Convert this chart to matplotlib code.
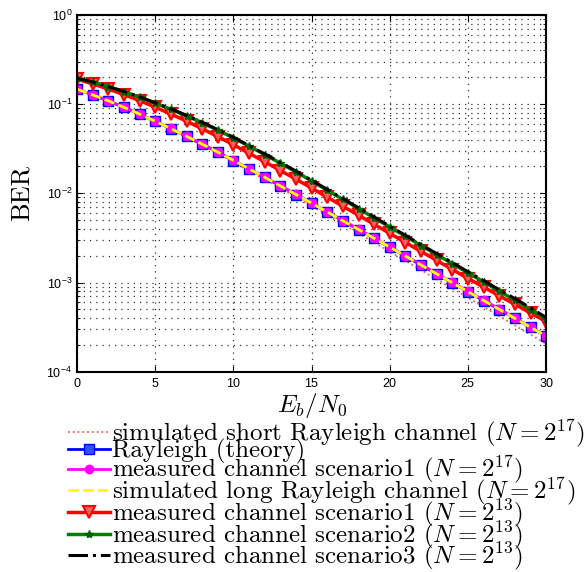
import matplotlib
matplotlib.use('Agg')
import matplotlib.pyplot as plt
from matplotlib.ticker import LogLocator, NullFormatter

plt.rcParams['font.family'] = ['cmr10', 'DejaVu Serif']
plt.rcParams['mathtext.fontset'] = 'cm'
plt.rcParams['axes.formatter.use_mathtext'] = True

snr = list(range(0, 31))

# Rayleigh (theory)
ber_theory = [0.1464, 0.1267, 0.1085, 0.0919, 0.0771, 0.0642, 0.0530, 0.0435, 0.0355, 0.0288,
              0.0233, 0.0187, 0.0151, 0.0121, 0.00967, 0.00773, 0.00616, 0.00491, 0.00392, 0.00312,
              0.00248, 0.00197, 0.001568, 0.001247, 0.000991, 0.000788, 0.000627, 0.000498, 0.000396,
              0.000314, 0.000250]
# simulated short Rayleigh channel (N=2^17)
ber_short = [0.1462, 0.1264, 0.1080, 0.0913, 0.0764, 0.0634, 0.0521, 0.0426, 0.0346, 0.0279,
             0.0224, 0.0178, 0.0143, 0.0114, 0.00905, 0.00718, 0.00568, 0.00450, 0.00356, 0.00281,
             0.00222, 0.00175, 0.001380, 0.001088, 0.000858, 0.000676, 0.000533, 0.000420, 0.000331,
             0.000261, 0.000205]
# measured channel scenario1 (N=2^17)
ber_meas1_17 = [0.1470, 0.1272, 0.1090, 0.0921, 0.0776, 0.0645, 0.0534, 0.0436, 0.0358, 0.0290,
                0.0235, 0.0189, 0.0152, 0.0122, 0.00975, 0.00780, 0.00622, 0.00496, 0.00396, 0.00315,
                0.00250, 0.00200, 0.001590, 0.001262, 0.001003, 0.000798, 0.000636, 0.000505, 0.000402,
                0.000318, 0.000253]
# simulated long Rayleigh channel (N=2^17)
ber_long = [0.1466, 0.1269, 0.1087, 0.0920, 0.0772, 0.0643, 0.0531, 0.0436, 0.0356, 0.0289,
            0.0234, 0.0188, 0.0151, 0.0121, 0.00969, 0.00775, 0.00618, 0.00492, 0.00393, 0.00313,
            0.00249, 0.00198, 0.001572, 0.001250, 0.000994, 0.000790, 0.000629, 0.000500, 0.000397,
            0.000315, 0.000251]
# measured channel scenario1 (N=2^13)
ber_meas1_13 = [0.190, 0.1685, 0.1476, 0.1277, 0.1095, 0.0924, 0.0774, 0.0644, 0.0529, 0.0432,
                0.0350, 0.0281, 0.0226, 0.0180, 0.0144, 0.01144, 0.00905, 0.00716, 0.00568, 0.00449,
                0.00355, 0.00281, 0.00223, 0.00177, 0.00140, 0.00111, 0.000890, 0.000710, 0.000570,
                0.000455, 0.000365]
# measured channel scenario2 (N=2^13)
ber_meas2_13 = [0.196, 0.1774, 0.1573, 0.1379, 0.1195, 0.1027, 0.0875, 0.0740, 0.0618, 0.0510,
                0.0419, 0.0337, 0.0272, 0.0218, 0.0174, 0.01376, 0.01084, 0.00854, 0.00674, 0.00530,
                0.00419, 0.00331, 0.00260, 0.00206, 0.00163, 0.00128, 0.00102, 0.000802, 0.000634,
                0.000499, 0.000395]
# measured channel scenario3 (N=2^13)
ber_meas3_13 = [0.195, 0.1770, 0.1570, 0.1385, 0.1205, 0.1035, 0.0885, 0.0748, 0.0625, 0.0518,
                0.0425, 0.0342, 0.0276, 0.0222, 0.0177, 0.01400, 0.01105, 0.00872, 0.00688, 0.00542,
                0.00428, 0.00338, 0.00266, 0.00211, 0.00167, 0.00132, 0.00105, 0.000830, 0.000660,
                0.000520, 0.000405]

fig = plt.figure(figsize=(5.88, 5.72), dpi=100)
ax = fig.add_axes([0.131, 0.350, 0.798, 0.624])

ax.semilogy(snr, ber_short, ':', color='#ff5a4a', lw=1.3,
            label=r'simulated short Rayleigh channel ($N=2^{17}$)')
ax.semilogy(snr, ber_theory, '-', color='#0000ff', lw=2, marker='s', ms=6.5,
            mfc='#3050ff', mec='#0000ff', label='Rayleigh (theory)')
ax.semilogy(snr, ber_meas1_17, '-', color='#ff00ff', lw=2, marker='o', ms=6,
            mfc='#ff00ff', mec='#ff00ff', label=r'measured channel scenario1 ($N=2^{17}$)')
ax.semilogy(snr, ber_long, '--', color='#ffff00', lw=2,
            label=r'simulated long Rayleigh channel ($N=2^{17}$)')
ax.semilogy(snr, ber_meas1_13, '-', color='#ff0000', lw=2.5, marker='v', ms=8,
            mfc='#ff6060', mec='#ff0000', mew=1.5, label=r'measured channel scenario1 ($N=2^{13}$)')
ax.semilogy(snr, ber_meas2_13, '-', color='#008000', lw=2.5, marker='*', ms=6,
            mfc='#006000', mec='#006000', label=r'measured channel scenario2 ($N=2^{13}$)')
ax.semilogy(snr, ber_meas3_13, '-.', color='black', lw=2.2,
            label=r'measured channel scenario3 ($N=2^{13}$)')

ax.set_xlim(0, 30)
ax.set_ylim(1e-4, 1)
ax.set_xticks([0, 5, 10, 15, 20, 25, 30])
ax.yaxis.set_major_locator(LogLocator(base=10, numticks=10))
ax.yaxis.set_minor_locator(LogLocator(base=10, subs=range(2, 10), numticks=20))
ax.yaxis.set_minor_formatter(NullFormatter())
ax.grid(True, which='major', axis='x', ls=(0, (1, 4)), color='#333333', lw=0.9)
ax.grid(True, which='both', axis='y', ls=(0, (1, 4)), color='#333333', lw=0.9)
ax.tick_params(which='both', direction='in', top=True, right=True)
ax.tick_params(which='major', length=4, labelsize=9)
ax.tick_params(which='minor', length=2)
for lab in ax.get_xticklabels() + ax.get_yticklabels():
    lab.set_fontfamily('Liberation Sans')
for sp in ax.spines.values():
    sp.set_linewidth(1.5)

ax.set_xlabel(r'$E_b/N_0$', fontsize=18, labelpad=1)
ax.set_ylabel('BER', fontsize=19, labelpad=9)

leg = fig.legend(loc='upper left', bbox_to_anchor=(0.1156, 0.270), borderaxespad=0,
                 frameon=False, fontsize=18, handlelength=1.68, handletextpad=0.08,
                 labelspacing=-0.41, borderpad=0)

fig.savefig('out.png', dpi=100)
